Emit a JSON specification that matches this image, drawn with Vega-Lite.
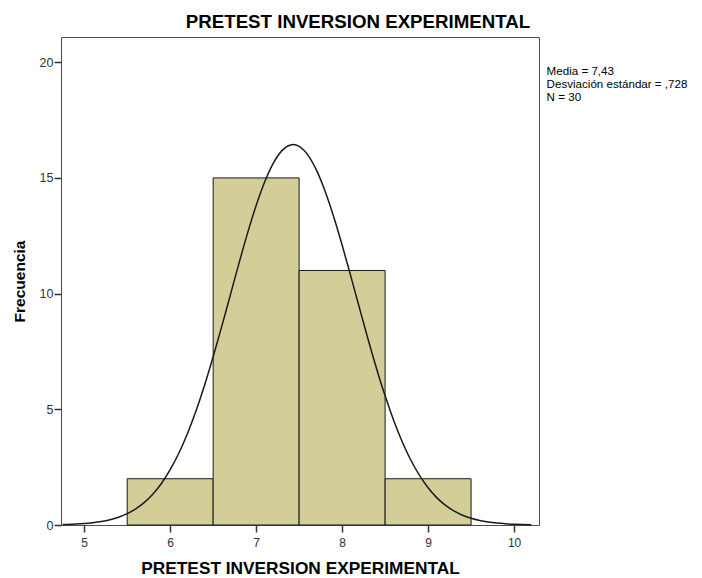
{
  "$schema": "https://vega.github.io/schema/vega-lite/v6.json",
  "width": 478,
  "height": 488,
  "autosize": "none",
  "padding": {"left": 61, "top": 37, "right": 163, "bottom": 53},
  "background": "white",
  "config": {
    "font": "Liberation Sans",
    "view": {"fill": "#F0F0F0", "stroke": "#4D4D4D", "strokeWidth": 1}
  },
  "title": {
    "text": "PRETEST INVERSION EXPERIMENTAL",
    "font": "Liberation Sans",
    "fontSize": 18.7,
    "fontWeight": "bold",
    "color": "black",
    "anchor": "middle",
    "dx": 58,
    "offset": 5
  },
  "datasets": {
    "bins": [
      {"bin_start": 5.5, "bin_end": 6.5, "count": 2},
      {"bin_start": 6.5, "bin_end": 7.5, "count": 15},
      {"bin_start": 7.5, "bin_end": 8.5, "count": 11},
      {"bin_start": 8.5, "bin_end": 9.5, "count": 2}
    ],
    "curve": [
      {"x": 4.75, "y": 0.0188}, {"x": 4.8, "y": 0.0241}, {"x": 4.9, "y": 0.0392}, {"x": 5.0, "y": 0.0626},
      {"x": 5.1, "y": 0.098}, {"x": 5.2, "y": 0.1507}, {"x": 5.3, "y": 0.2274}, {"x": 5.4, "y": 0.3368},
      {"x": 5.5, "y": 0.4895}, {"x": 5.6, "y": 0.6979}, {"x": 5.7, "y": 0.9764}, {"x": 5.8, "y": 1.3404},
      {"x": 5.9, "y": 1.8064}, {"x": 6.0, "y": 2.3884}, {"x": 6.1, "y": 3.099}, {"x": 6.2, "y": 3.944},
      {"x": 6.3, "y": 4.929}, {"x": 6.4, "y": 6.043}, {"x": 6.5, "y": 7.27}, {"x": 6.6, "y": 8.583},
      {"x": 6.7, "y": 9.944}, {"x": 6.8, "y": 11.306}, {"x": 6.9, "y": 12.613}, {"x": 7.0, "y": 13.808},
      {"x": 7.1, "y": 14.835}, {"x": 7.2, "y": 15.64}, {"x": 7.3, "y": 16.18}, {"x": 7.4, "y": 16.426},
      {"x": 7.43, "y": 16.44}, {"x": 7.5, "y": 16.364}, {"x": 7.6, "y": 15.998}, {"x": 7.7, "y": 15.347},
      {"x": 7.8, "y": 14.448}, {"x": 7.9, "y": 13.347}, {"x": 8.0, "y": 12.1}, {"x": 8.1, "y": 10.765},
      {"x": 8.2, "y": 9.397}, {"x": 8.3, "y": 8.05}, {"x": 8.4, "y": 6.767}, {"x": 8.5, "y": 5.582},
      {"x": 8.6, "y": 4.519}, {"x": 8.7, "y": 3.59}, {"x": 8.8, "y": 2.798}, {"x": 8.9, "y": 2.141},
      {"x": 9.0, "y": 1.607}, {"x": 9.1, "y": 1.184}, {"x": 9.2, "y": 0.856}, {"x": 9.3, "y": 0.607},
      {"x": 9.4, "y": 0.4225}, {"x": 9.5, "y": 0.2886}, {"x": 9.6, "y": 0.1934}, {"x": 9.7, "y": 0.1272},
      {"x": 9.8, "y": 0.0821}, {"x": 9.9, "y": 0.052}, {"x": 10.0, "y": 0.0324}, {"x": 10.1, "y": 0.0197},
      {"x": 10.2, "y": 0.0118}
    ],
    "stats": [
      {"label": "Media = 7,43"},
      {"label": "Desviación estándar = ,728"},
      {"label": "N = 30"}
    ]
  },
  "layer": [
    {
      "data": {"name": "bins"},
      "mark": {"type": "rect", "fill": "#D3CE98", "stroke": "#1A1A1A", "strokeWidth": 1},
      "encoding": {
        "x": {
          "field": "bin_start", "type": "quantitative",
          "scale": {"domain": [4.73, 10.29], "nice": false, "zero": false},
          "axis": {
            "values": [5, 6, 7, 8, 9, 10],
            "format": "d",
            "title": "PRETEST INVERSION EXPERIMENTAL",
            "titleFont": "Liberation Sans", "titleFontSize": 17.3, "titleFontWeight": "bold", "titleColor": "black",
            "titlePadding": 11,
            "labelFont": "Liberation Sans", "labelFontSize": 12, "labelColor": "#333333", "labelPadding": 5,
            "tickColor": "#333333", "tickSize": 7, "tickWidth": 1.5,
            "domainColor": "#4D4D4D", "grid": false
          }
        },
        "x2": {"field": "bin_end"},
        "y": {
          "field": "count", "type": "quantitative",
          "scale": {"domain": [0, 21.09], "nice": false},
          "axis": {
            "values": [0, 5, 10, 15, 20],
            "title": "Frecuencia",
            "titleFont": "Liberation Sans", "titleFontSize": 15.5, "titleFontWeight": "bold", "titleColor": "black",
            "titlePadding": 12,
            "labelFont": "Liberation Sans", "labelFontSize": 12.5, "labelColor": "#333333", "labelPadding": 1,
            "tickColor": "#333333", "tickSize": 7, "tickWidth": 1.5,
            "domainColor": "#4D4D4D", "grid": false
          }
        },
        "y2": {"datum": 0}
      }
    },
    {
      "data": {"name": "curve"},
      "mark": {"type": "line", "color": "#1A1A1A", "strokeWidth": 1.5, "interpolate": "monotone"},
      "encoding": {
        "x": {"field": "x", "type": "quantitative"},
        "y": {"field": "y", "type": "quantitative"}
      }
    },
    {
      "data": {"name": "stats"},
      "mark": {"type": "point", "opacity": 0},
      "encoding": {
        "color": {
          "field": "label", "type": "nominal",
          "scale": {"domain": ["Media = 7,43", "Desviación estándar = ,728", "N = 30"], "range": ["black", "black", "black"]},
          "legend": {
            "title": null, "orient": "none", "legendX": 474, "legendY": 29,
            "symbolOpacity": 0, "symbolSize": 0, "symbolStrokeWidth": 0, "labelOffset": 0,
            "labelFont": "Liberation Sans", "labelFontSize": 11.6, "labelColor": "black",
            "rowPadding": 0, "labelLimit": 300, "padding": 0
          }
        }
      }
    }
  ]
}
